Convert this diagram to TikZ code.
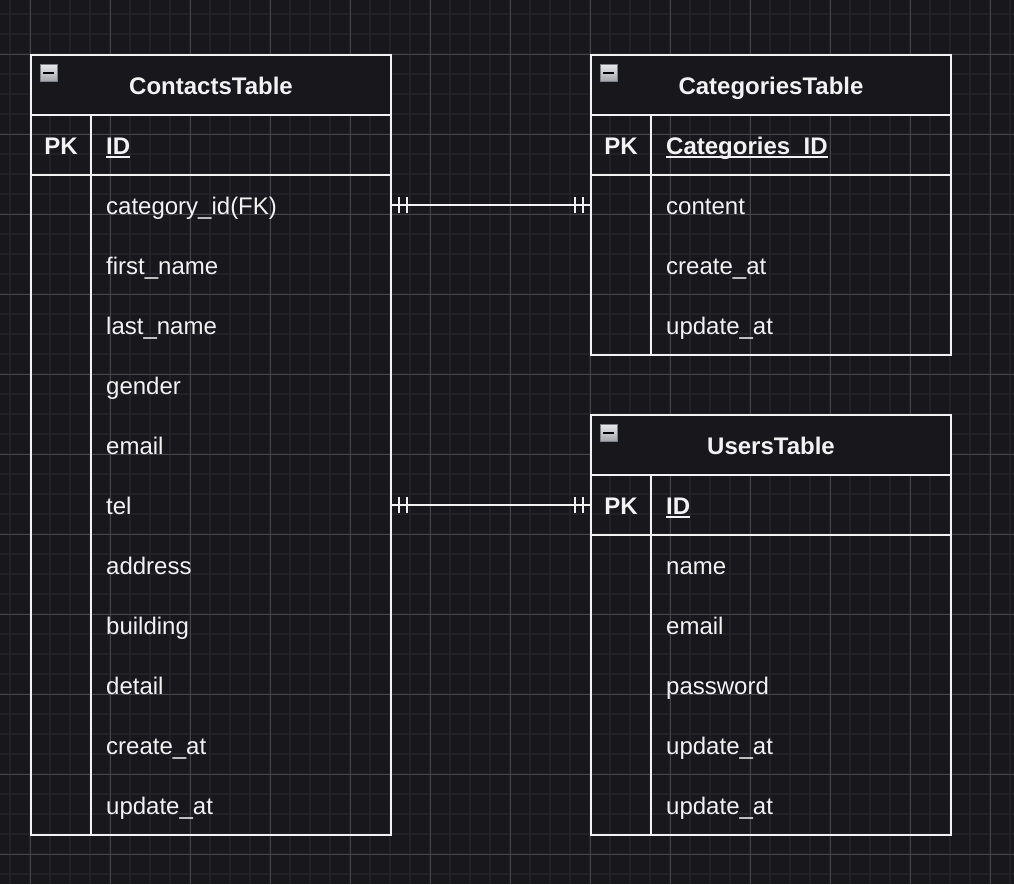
\documentclass[tikz,border=0pt]{standalone}
\usepackage{fontspec}
\setmainfont{Liberation Sans}
\usetikzlibrary{calc}
\definecolor{bg}{HTML}{18171C}
\definecolor{gminor}{HTML}{222127}
\definecolor{gmajor}{HTML}{46454A}
\definecolor{fg}{HTML}{F2F2F2}
\definecolor{iconedge}{HTML}{7C808A}
\definecolor{icontop}{HTML}{EAEAEC}
\definecolor{iconbot}{HTML}{A4A6AD}
\begin{document}
\begin{tikzpicture}[x=1pt,y=-1pt,
  tbl/.style={draw=fg, line width=2pt, inner sep=0pt, outer sep=0pt, anchor=north west},
  sep/.style={draw=fg, line width=2pt},
  conn/.style={draw=fg, line width=2pt},
  title/.style={font=\fontsize{24}{28}\selectfont\bfseries, text=fg, inner sep=0pt, anchor=base},
  pk/.style={font=\fontsize{24}{28}\selectfont\bfseries, text=fg, inner sep=0pt, anchor=base},
  field/.style={font=\fontsize{24}{28}\selectfont, text=fg, inner sep=0pt, anchor=base west},
  keyf/.style={font=\fontsize{24}{28}\selectfont\bfseries, text=fg, inner sep=0pt, anchor=base west},
  uline/.style={draw=fg, line width=2pt},
]
\fill[bg] (0,0) rectangle (1014,884);
\useasboundingbox (0,0) rectangle (1014,884);
% grid
\foreach \x in {10,30,...,1010} \draw[gminor, line width=2pt] (\x,0) -- (\x,884);
\foreach \y in {14,34,...,874} \draw[gminor, line width=2pt] (0,\y) -- (1014,\y);
\foreach \x in {30,110,...,990} \draw[gmajor, line width=1pt] (\x,0) -- (\x,884);
\foreach \y in {54,134,...,854} \draw[gmajor, line width=1pt] (0,\y) -- (1014,\y);

% header fills
\fill[bg] (31,55) rectangle (391,115);
\fill[bg] (591,55) rectangle (951,115);
\fill[bg] (591,415) rectangle (951,475);

% ---------------- ContactsTable
\node[tbl, minimum width=360pt, minimum height=780pt] (contacts) at (31,55) {};
\draw[sep] (31,115) -- (391,115);
\draw[sep] (31,175) -- (391,175);
\draw[sep] (91,115) -- (91,835);
\node[title] (ctitle) at (211,94) {ContactsTable};
\node[pk] (cpk) at (61,154) {PK};
\node[keyf] (cid) at (106,154) {ID};
\draw[uline] ([yshift=-3pt]cid.base west) -- ([yshift=-3pt]cid.base east);
\foreach \t [count=\i] in {category\_id(FK),first\_name,last\_name,gender,email,tel,address,building,detail,create\_at,update\_at}{
  \node[field] (cf\i) at (106,{154+60*\i}) {\t};
}
\coordinate (crow1) at (211,205);
\coordinate (crow6) at (211,505);

% ---------------- CategoriesTable
\node[tbl, minimum width=360pt, minimum height=300pt] (cats) at (591,55) {};
\draw[sep] (591,115) -- (951,115);
\draw[sep] (591,175) -- (951,175);
\draw[sep] (651,115) -- (651,355);
\node[title] (kttitle) at (771,94) {CategoriesTable};
\node[pk] (ktpk) at (621,154) {PK};
\node[keyf] (ktid) at (666,154) {Categories\_ID};
\draw[uline] ([yshift=-3pt]ktid.base west) -- ([yshift=-3pt]ktid.base east);
\foreach \t [count=\i] in {content,create\_at,update\_at}{
  \node[field] (kf\i) at (666,{154+60*\i}) {\t};
}

% ---------------- UsersTable
\node[tbl, minimum width=360pt, minimum height=420pt] (users) at (591,415) {};
\draw[sep] (591,475) -- (951,475);
\draw[sep] (591,535) -- (951,535);
\draw[sep] (651,475) -- (651,835);
\node[title] (utitle) at (771,454) {UsersTable};
\node[pk] (upk) at (621,514) {PK};
\node[keyf] (uid) at (666,514) {ID};
\draw[uline] ([yshift=-3pt]uid.base west) -- ([yshift=-3pt]uid.base east);
\foreach \t [count=\i] in {name,email,password,update\_at,update\_at}{
  \node[field] (uf\i) at (666,{514+60*\i}) {\t};
}

% collapse icons
\foreach \ox/\oy in {40/64,600/64,600/424}{
  \shade[top color=icontop, bottom color=iconbot, draw=iconedge, line width=1pt]
    (\ox,\oy) rectangle ++(17,17);
  \fill[black] ($(\ox,\oy)+(3,7.5)$) rectangle ++(11,2.2);
}

% connectors (mandatory one to mandatory one)
\draw[conn] (contacts.east |- crow1) -- (cats.west |- crow1);
\draw[conn] ($(contacts.east |- crow1)+(8,-8)$) -- ++(0,16);
\draw[conn] ($(contacts.east |- crow1)+(16,-8)$) -- ++(0,16);
\draw[conn] ($(cats.west |- crow1)+(-8,-8)$) -- ++(0,16);
\draw[conn] ($(cats.west |- crow1)+(-16,-8)$) -- ++(0,16);

\draw[conn] (contacts.east |- crow6) -- (users.west |- crow6);
\draw[conn] ($(contacts.east |- crow6)+(8,-8)$) -- ++(0,16);
\draw[conn] ($(contacts.east |- crow6)+(16,-8)$) -- ++(0,16);
\draw[conn] ($(users.west |- crow6)+(-8,-8)$) -- ++(0,16);
\draw[conn] ($(users.west |- crow6)+(-16,-8)$) -- ++(0,16);
\end{tikzpicture}
\end{document}
